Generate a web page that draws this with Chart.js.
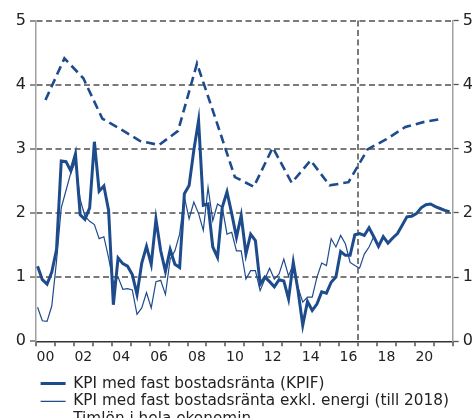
<!DOCTYPE html>
<html>
<head>
<meta charset="utf-8">
<script src="https://cdn.jsdelivr.net/npm/chart.js@4.4.1/dist/chart.umd.min.js"></script>
<style>
html, body { margin: 0; padding: 0; background: #fff; overflow: hidden; }
#wrap { width: 472px; height: 437px; }
</style>
</head>
<body>
<div id="wrap"><canvas id="kpi-chart"></canvas></div>
<script>
// KPIF, årlig procentuell förändring, kvartalsvis (2000 K1 - 2021 K4)
const firstYear = 2000;
const kpif = [
    1.17, 0.96, 0.89, 1.08,
    1.43, 2.81, 2.80, 2.66,
    2.92, 1.97, 1.90, 2.08,
    3.11, 2.34, 2.42, 2.04,
    0.57, 1.30, 1.21, 1.17,
    1.04, 0.73, 1.22, 1.48,
    1.20, 1.90, 1.41, 1.09,
    1.43, 1.20, 1.15, 2.30,
    2.43, 2.98, 3.44, 2.12,
    2.14, 1.47, 1.31, 2.09,
    2.33, 1.99, 1.62, 1.96,
    1.36, 1.67, 1.57, 0.89,
    1.00, 0.93, 0.85, 0.96,
    0.94, 0.66, 1.23, 0.79,
    0.25, 0.62, 0.48, 0.58,
    0.77, 0.75, 0.92, 1.00,
    1.40, 1.34, 1.34, 1.66,
    1.68, 1.65, 1.77, 1.63,
    1.48, 1.63, 1.53, 1.61,
    1.68, 1.81, 1.94, 1.95,
    1.99, 2.08, 2.13, 2.14,
    2.10, 2.07, 2.04, 2.02
];
// KPIF exkl. energi (till 2018)
const kpifExEnergy = [
    0.53, 0.32, 0.31, 0.55,
    1.25, 2.08, 2.35, 2.62,
    2.80, 2.21, 1.95, 1.87,
    1.82, 1.60, 1.63, 1.30,
    0.91, 1.00, 0.81, 0.82,
    0.80, 0.42, 0.52, 0.76,
    0.52, 0.93, 0.95, 0.73,
    1.28, 1.41, 1.67, 2.25,
    1.91, 2.17, 1.99, 1.73,
    2.40, 1.88, 2.14, 2.09,
    1.67, 1.70, 1.41, 1.41,
    0.97, 1.10, 1.10, 0.79,
    0.97, 1.14, 0.97, 1.05,
    1.28, 1.02, 1.20, 0.84,
    0.61, 0.69, 0.69, 1.00,
    1.22, 1.18, 1.60, 1.47,
    1.65, 1.52, 1.23, 1.18,
    1.14, 1.36, 1.47, 1.63,
    1.48, 1.63, 1.53, 1.61
];
// Timlön i hela ekonomin, årsvärden
const wageYears = [2000, 2001, 2002, 2003, 2004, 2005, 2006, 2007, 2008, 2009, 2010,
    2011, 2012, 2013, 2014, 2015, 2016, 2017, 2018, 2019, 2020, 2021];
const hourlyWage = [3.76, 4.41, 4.10, 3.47, 3.30, 3.12, 3.06, 3.28, 4.33, 3.45, 2.56,
    2.41, 3.02, 2.47, 2.82, 2.43, 2.48, 2.99, 3.15, 3.34, 3.42, 3.47];

const seriesNames = [
    'KPI med fast bostadsränta (KPIF)',
    'KPI med fast bostadsränta exkl. energi (till 2018)',
    'Timlön i hela ekonomin'
];
const xLabelYears = [2000, 2002, 2004, 2006, 2008, 2010, 2012, 2014, 2016, 2018, 2020];
const xLabels = ['00', '02', '04', '06', '08', '10', '12', '14', '16', '18', '20'];
const forecastStart = 2017;

const blue = '#1e4b8c';
const gridGrey = '#7a7a7a';
const font = 'DejaVu Sans';

// kvartal i placeras mitt i kvartalet (andra månaden)
const quarterX = (i) => firstYear + (i * 3 + 1) / 12;

const xTicks = [];
for (let y = 2000; y <= 2022; y++) {
    xTicks.push(y);
    if (xLabelYears.includes(y)) xTicks.push(y + 0.5);
}

const legendIndent = {
    id: 'legendIndent',
    afterLayout(chart) {
        chart.legend.left = 38;
    }
};

const ctx = document.getElementById('kpi-chart');

const myChart = new Chart(ctx, {
    type: 'line',
    data: {
        datasets: [{
            label: seriesNames[0],
            data: kpif.map((v, i) => ({x: quarterX(i), y: v})),
            borderColor: blue,
            borderWidth: 3,
            pointRadius: 0,
            tension: 0
        }, {
            label: seriesNames[1],
            data: kpifExEnergy.map((v, i) => ({x: quarterX(i), y: v})),
            borderColor: blue,
            borderWidth: 1.2,
            pointRadius: 0,
            tension: 0
        }, {
            label: seriesNames[2],
            data: hourlyWage.map((v, i) => ({x: wageYears[i] + 0.5, y: v})),
            borderColor: blue,
            borderWidth: 2.6,
            borderDash: [9, 5],
            pointRadius: 0,
            tension: 0
        }]
    },
    options: {
        responsive: true,
        maintainAspectRatio: false,
        animation: false,
        layout: {
            padding: {top: 20.5, left: 0, right: 0, bottom: 0}
        },
        scales: {
            x: {
                type: 'linear',
                min: 2000,
                max: 2022,
                afterBuildTicks: (scale) => {
                    scale.ticks = xTicks.map(v => ({value: v}));
                },
                afterFit: (scale) => {
                    scale.height = 32;
                },
                ticks: {
                    autoSkip: false,
                    maxRotation: 0,
                    minRotation: 0,
                    padding: 3,
                    color: '#222',
                    font: {family: font, size: 14},
                    callback: (v) => {
                        const i = xLabelYears.indexOf(v - 0.5);
                        return i >= 0 ? xLabels[i] : '';
                    }
                },
                grid: {
                    drawOnChartArea: true,
                    color: (c) => c.tick && c.tick.value === forecastStart ? gridGrey : 'rgba(0,0,0,0)',
                    lineWidth: 2,
                    tickColor: (c) => c.tick && Number.isInteger(c.tick.value) ? '#333' : 'rgba(0,0,0,0)',
                    tickLength: 5,
                    tickWidth: 1.3
                },
                border: {
                    color: '#333',
                    width: 1.5,
                    dash: [6, 3.5]
                }
            },
            y: {
                position: 'left',
                min: 0,
                max: 5,
                afterFit: (scale) => {
                    scale.width = 36;
                },
                ticks: {
                    stepSize: 1,
                    padding: 4,
                    color: '#222',
                    font: {family: font, size: 16}
                },
                grid: {
                    color: (c) => c.tick && c.tick.value === 0 ? 'rgba(0,0,0,0)' : gridGrey,
                    lineWidth: 2,
                    tickColor: '#555',
                    tickLength: 6,
                    tickWidth: 1.3
                },
                border: {
                    color: '#a0a0a0',
                    width: 1.5,
                    dash: [6, 3.5]
                }
            },
            y2: {
                position: 'right',
                min: 0,
                max: 5,
                afterFit: (scale) => {
                    scale.width = 19.3;
                },
                ticks: {
                    stepSize: 1,
                    padding: 4,
                    color: '#222',
                    font: {family: font, size: 16}
                },
                grid: {
                    drawOnChartArea: false,
                    tickColor: '#555',
                    tickLength: 6,
                    tickWidth: 1.3
                },
                border: {
                    color: '#a0a0a0',
                    width: 1.5
                }
            }
        },
        plugins: {
            legend: {
                position: 'bottom',
                align: 'start',
                labels: {
                    usePointStyle: true,
                    pointStyle: 'line',
                    pointStyleWidth: 25,
                    padding: 2.6,
                    color: '#222',
                    font: {family: font, size: 15.3}
                }
            },
            tooltip: {enabled: false}
        }
    },
    plugins: [legendIndent]
});
</script>
</body>
</html>
